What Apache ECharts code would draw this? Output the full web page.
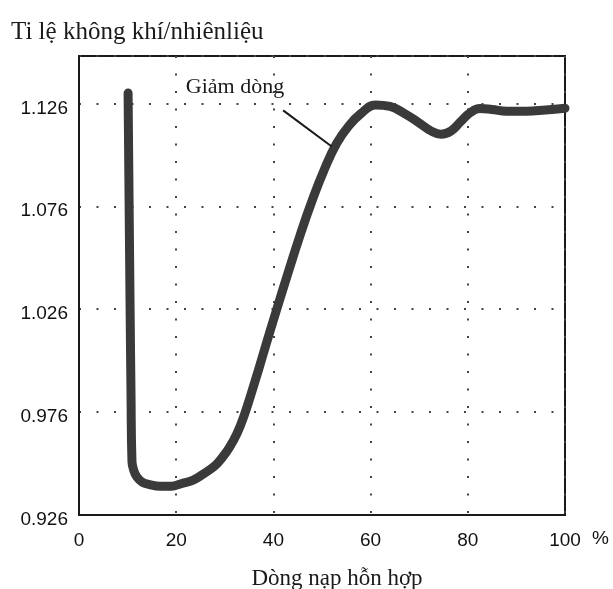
<!DOCTYPE html>
<html>
<head>
<meta charset="utf-8">
<script src="https://cdn.jsdelivr.net/npm/echarts@6/dist/echarts.min.js"></script>
<style>html,body{margin:0;padding:0;background:#fff}#c{width:613px;height:589px}</style>
</head>
<body>
<div id="c"></div>
<script>
// ---- data ----
var titleText = 'Ti lệ không khí/nhiênliệu';
var xAxisName = 'Dòng nạp hỗn hợp';
var xUnit = '%';
var yTickLabels = [0.926, 0.976, 1.026, 1.076, 1.126];
var xTickLabels = [0, 20, 40, 60, 80, 100];
var yBase = 0.926;
var yTop = 1.149;

var flowPct = [10.1, 10.3, 10.5, 10.7, 10.9, 11.3, 11.9, 13.0, 14.5, 16.7, 19.0, 21.0, 23.5, 25.5, 28.0, 29.5, 31.0, 32.5, 34.0, 35.5, 37.0, 38.5, 40.5, 43.0, 45.5, 48.0, 50.5, 53.0, 55.5, 58.0, 61.0, 64.0, 67.0, 70.0, 72.5, 74.5, 76.5, 78.5, 80.5, 82.5, 85.0, 88.0, 92.0, 96.0, 100.0];
var afRatio = [1.131, 1.080, 1.030, 0.985, 0.952, 0.9475, 0.9445, 0.9420, 0.9408, 0.9400, 0.9400, 0.9412, 0.9430, 0.9458, 0.9500, 0.9540, 0.9590, 0.9655, 0.9745, 0.9855, 0.9970, 1.0090, 1.0245, 1.0435, 1.0620, 1.0790, 1.0940, 1.1065, 1.1150, 1.1210, 1.1252, 1.1245, 1.1210, 1.1165, 1.1125, 1.1110, 1.1125, 1.1170, 1.1215, 1.1235, 1.1230, 1.1222, 1.1222, 1.1228, 1.1236];

var annoText = 'Giảm dòng';
var annoTextPos = [32.1, 1.1338];
var annoLineFrom = [42.0, 1.1226];
var annoLineTo = [52.0, 1.1050];

// ---- build ----
function off(v){ return +(v - yBase).toFixed(4); }
var seriesData = flowPct.map(function(x, i){ return [x, off(afRatio[i])]; });

var chart = echarts.init(document.getElementById('c'));
var serif = '"Liberation Serif", "DejaVu Serif", serif';
var sans = '"Liberation Sans", Arial, sans-serif';

chart.setOption({
  backgroundColor: '#fff',
  animation: false,
  title: {
    text: titleText,
    left: 6, top: 15,
    textStyle: { fontFamily: serif, fontSize: 25, fontWeight: 'normal', color: '#1a1a1a' }
  },
  grid: {
    left: 79, right: 48, top: 56, bottom: 74,
    outerBoundsMode: 'none', containLabel: false,
    show: true, borderColor: '#1a1a1a', borderWidth: 2, backgroundColor: 'transparent'
  },
  xAxis: {
    type: 'value', min: xTickLabels[0], max: xTickLabels[xTickLabels.length-1], interval: 20,
    name: xAxisName, nameLocation: 'middle', nameGap: 52,
    nameTextStyle: { fontFamily: serif, fontSize: 23, color: '#1a1a1a', padding: [0, 0, 0, 30] },
    axisLine: { show: true, lineStyle: { color: '#1a1a1a', width: 2 } },
    axisTick: { show: false },
    axisLabel: { margin: 16, fontFamily: sans, fontSize: 19, color: '#111' },
    splitLine: { show: true, lineStyle: { color: '#444', width: 2, type: [2, 15.5] } }
  },
  yAxis: {
    type: 'value', min: 0, max: off(yTop), interval: 0.05,
    axisLine: { show: true, lineStyle: { color: '#1a1a1a', width: 2 } },
    axisTick: { show: false },
    axisLabel: {
      margin: 11, fontFamily: sans, fontSize: 19, color: '#111',
      verticalAlign: 'top', lineHeight: 10, showMaxLabel: false,
      formatter: function(v){
        var s = (v + yBase).toFixed(3);
        return yTickLabels.some(function(t){ return t.toFixed(3) === s; }) ? s : '';
      }
    },
    splitLine: { show: true, lineStyle: { color: '#444', width: 2, type: [2, 15.5] } }
  },
  series: [{
    type: 'line',
    data: seriesData,
    smooth: 0.45,
    symbol: 'none',
    lineStyle: { color: '#3a3a3a', width: 9, cap: 'round', join: 'round' },
    markLine: {
      silent: true, symbol: ['none', 'none'],
      lineStyle: { color: '#1a1a1a', width: 2, type: 'solid' },
      label: { show: false },
      data: [[{ coord: [annoLineFrom[0], off(annoLineFrom[1])] }, { coord: [annoLineTo[0], off(annoLineTo[1])] }]]
    },
    markPoint: {
      silent: true, symbol: 'circle', symbolSize: 0,
      label: { show: true, position: 'inside', formatter: annoText, fontFamily: serif, fontSize: 22, color: '#1a1a1a' },
      data: [{ coord: [annoTextPos[0], off(annoTextPos[1])] }]
    }
  }]
});

// unit "%" next to the last x tick label
var p = chart.convertToPixel({xAxisIndex: 0, yAxisIndex: 0}, [xTickLabels[xTickLabels.length-1], 0]);
chart.setOption({
  graphic: [{
    type: 'text', left: p[0] + 27, top: p[1] + 14,
    style: { text: xUnit, fontFamily: sans, fontSize: 19, fill: '#111' }
  }]
});
</script>
</body>
</html>
